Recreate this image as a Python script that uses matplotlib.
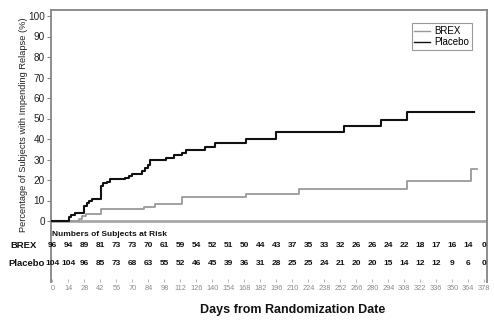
import matplotlib
matplotlib.use("Agg")
import matplotlib.pyplot as plt

plt.rcParams['font.family'] = ['Liberation Sans', 'DejaVu Sans']

# ---- data ----
brex_days = [0, 23.5, 26, 29.5, 42.3, 80, 89.5, 113, 169.2, 216, 310.5, 366, 372]
brex_pct = [0, 1.0, 2.2, 3.3, 5.8, 7.0, 8.5, 11.5, 13.1, 15.8, 19.7, 25.4, 25.4]

placebo_days = [0, 14.5, 16.5, 20, 28, 30, 32, 34.5, 42.5, 44, 47.5, 50.5, 63.5, 67, 70,
                78, 81, 83.5, 85.5, 99.5, 106, 113, 117, 133.5, 142.5, 169.3, 196, 255.5,
                287.6, 310, 369.3]
placebo_pct = [0, 2.0, 3.0, 4.0, 7.5, 9.0, 10.0, 10.8, 17.0, 18.3, 19.2, 20.3, 21.2, 22.1, 22.7,
               24.5, 25.8, 27.5, 29.8, 30.9, 32.0, 33.3, 34.6, 36.1, 38.1, 39.8, 43.6, 46.5,
               49.5, 53.3, 53.3]

risk_days = list(range(0, 379, 14))
brex_risk = [96, 94, 89, 81, 73, 73, 70, 61, 59, 54, 52, 51, 50, 44, 43, 37, 35, 33, 32,
             26, 26, 24, 22, 18, 17, 16, 14, 0]
placebo_risk = [104, 104, 96, 85, 73, 68, 63, 55, 52, 46, 45, 39, 36, 31, 28, 25, 25, 24,
                21, 20, 20, 15, 14, 12, 12, 9, 6, 0]
y_ticks = list(range(0, 101, 10))

# ---- figure ----
W, H = 494, 321
fig = plt.figure(figsize=(W / 100, H / 100), dpi=100)
ax = fig.add_axes([51 / W, 1 - 282 / H, (486.7 - 51) / W, (282 - 10) / H])

y_top = 100 + 6 / 2.05
y_bot = -61 / 2.05
ax.set_xlim(-1.3, 380.1)
ax.set_ylim(y_bot, y_top)

ax.step(brex_days, brex_pct, where='post', color='#9a9a9a', lw=1.3, label='BREX', zorder=3)
ax.step(placebo_days, placebo_pct, where='post', color='#111111', lw=1.5, label='Placebo', zorder=4)
ax.axhline(0, color='#a8a8a8', lw=2.0, zorder=2)

frame_c = '#858585'
for s in ['left', 'right', 'top']:
    ax.spines[s].set_color(frame_c)
    ax.spines[s].set_linewidth(1.3)
ax.spines['bottom'].set_visible(False)

ax.set_yticks(y_ticks)
ax.set_yticklabels([str(v) for v in y_ticks], fontsize=7.2, color='#222222')
ax.tick_params(axis='y', length=3, width=0.8, color=frame_c, pad=1.5)

ax.set_xticks(risk_days)
ax.set_xticklabels([str(d) for d in risk_days], fontsize=5.3, color='#8a8a8a')
ax.tick_params(axis='x', length=2.5, width=0.6, color='#aaaaaa', pad=2, direction='in')

# risk table
y_head = -(235 - 221) / 2.05
y_brex = -(245.5 - 221) / 2.05
y_plac = -(263.5 - 221) / 2.05
ax.text(0, y_head, 'Numbers of Subjects at Risk', fontsize=6.0, fontweight='bold',
        ha='left', va='center', color='#111111')
for d, b, p in zip(risk_days, brex_risk, placebo_risk):
    ax.text(d, y_brex, str(b), fontsize=6, fontweight='bold', ha='center', va='center',
            color='#111111')
    ax.text(d, y_plac, str(p), fontsize=6, fontweight='bold', ha='center', va='center',
            color='#111111')
fig.text(10 / W, 1 - 245.5 / H, 'BREX', fontsize=6.8, fontweight='bold', ha='left', va='center',
         color='#111111')
fig.text(8 / W, 1 - 263.5 / H, 'Placebo', fontsize=6.8, fontweight='bold', ha='left', va='center',
         color='#111111')

# labels
fig.text(23.5 / W, 1 - 125 / H, 'Percentage of Subjects with Impending Relapse (%)',
         rotation=90, fontsize=6.7, ha='center', va='center', color='#222222')
fig.text(293 / W, 1 - 310 / H, 'Days from Randomization Date', fontsize=9,
         fontweight='bold', ha='center', va='center', color='#111111')

leg = ax.legend(loc='upper right', bbox_to_anchor=(471.7 / W, 1 - 23.3 / H),
                bbox_transform=fig.transFigure, borderaxespad=0, fancybox=False,
                fontsize=7, handlelength=1.6, handletextpad=0.4, borderpad=0.3,
                labelspacing=0.1, framealpha=1)
leg.get_frame().set_edgecolor('#999999')
leg.get_frame().set_linewidth(0.8)
for line in leg.get_lines():
    line.set_linewidth(1.0)

fig.savefig('out.png', dpi=100)
